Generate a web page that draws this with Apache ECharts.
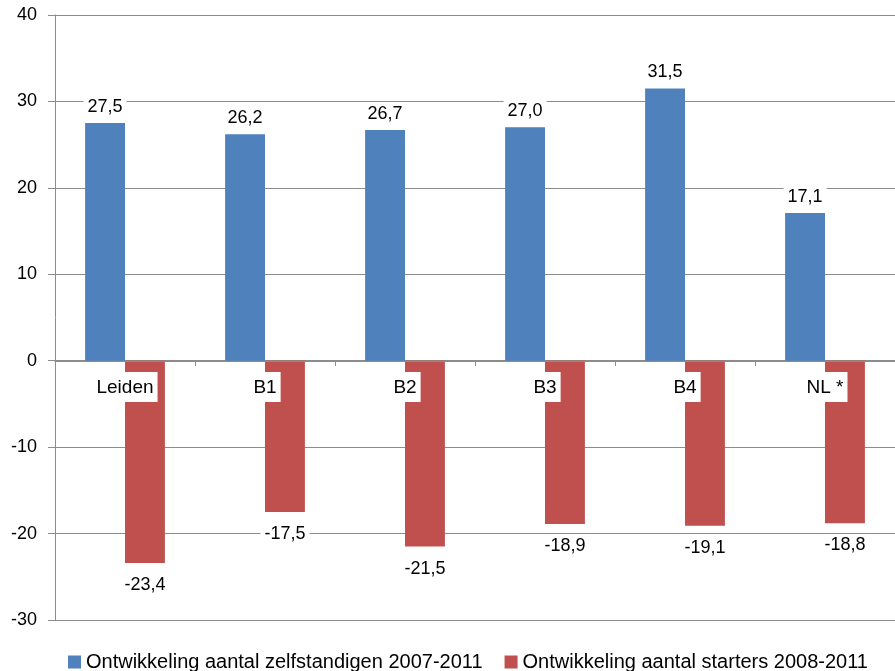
<!DOCTYPE html>
<html>
<head>
<meta charset="utf-8">
<script src="https://cdn.jsdelivr.net/npm/echarts@6/dist/echarts.min.js"></script>
<style>
    html, body { margin: 0; padding: 0; background: #fff; }
    #chart { width: 895px; height: 671px; }
</style>
</head>
<body>
<div id="chart"></div>
<script>
var categories = ['Leiden', 'B1', 'B2', 'B3', 'B4', 'NL *'];
var zelfstandigen = [27.5, 26.2, 26.7, 27.0, 31.5, 17.1];
var starters = [-23.4, -17.5, -21.5, -18.9, -19.1, -18.8];
var seriesNames = ['Ontwikkeling aantal zelfstandigen 2007-2011', 'Ontwikkeling aantal starters 2008-2011'];

var font = 'Liberation Sans, Arial, sans-serif';
var grey = '#8c8c8c';

// getal met komma als decimaalteken
function fmt(p) {
    return p.value.toFixed(1).replace('.', ',');
}

var chart = echarts.init(document.getElementById('chart'));
chart.setOption({
    animation: false,
    textStyle: {fontFamily: font},
    legend: {
        left: 63,
        top: 647,
        itemWidth: 13,
        itemHeight: 13,
        itemGap: 22,
        icon: 'rect',
        textStyle: {fontSize: 20, color: '#000', fontFamily: font},
        data: seriesNames
    },
    grid: {left: 55, top: 15, width: 846, height: 605},
    xAxis: {
        type: 'category',
        data: categories,
        z: 5,
        // as op de nullijn: 620 - 361 px omhoog
        offset: -259,
        axisLine: {onZero: false, lineStyle: {color: grey}},
        axisTick: {show: true, length: 5, lineStyle: {color: grey}},
        axisLabel: {
            fontSize: 19,
            color: '#000',
            fontFamily: font,
            margin: 11,
            backgroundColor: '#fff',
            padding: [6, 4, 5, 4]
        }
    },
    yAxis: {
        type: 'value',
        min: -30,
        max: 40,
        interval: 10,
        axisLine: {show: true, lineStyle: {color: grey}},
        axisTick: {show: true, length: 7, lineStyle: {color: grey}},
        axisLabel: {fontSize: 18, color: '#000', fontFamily: font, margin: 18},
        splitLine: {lineStyle: {color: grey, width: 1}}
    },
    series: [
        {
            name: seriesNames[0],
            type: 'bar',
            data: zelfstandigen,
            barGap: '0%',
            barCategoryGap: '43%',
            itemStyle: {color: '#4F81BD'},
            label: {
                show: true,
                position: 'top',
                distance: 5,
                formatter: fmt,
                fontSize: 18,
                color: '#000',
                fontFamily: font,
                backgroundColor: '#fff',
                padding: [2, 4, 2, 4]
            }
        },
        {
            name: seriesNames[1],
            type: 'bar',
            data: starters,
            barGap: '0%',
            barCategoryGap: '43%',
            itemStyle: {color: '#C0504D'},
            label: {
                show: true,
                position: 'bottom',
                distance: 11,
                formatter: fmt,
                fontSize: 18,
                color: '#000',
                fontFamily: font,
                backgroundColor: '#fff',
                padding: [2, 4, 2, 4]
            }
        }
    ]
});
</script>
</body>
</html>
